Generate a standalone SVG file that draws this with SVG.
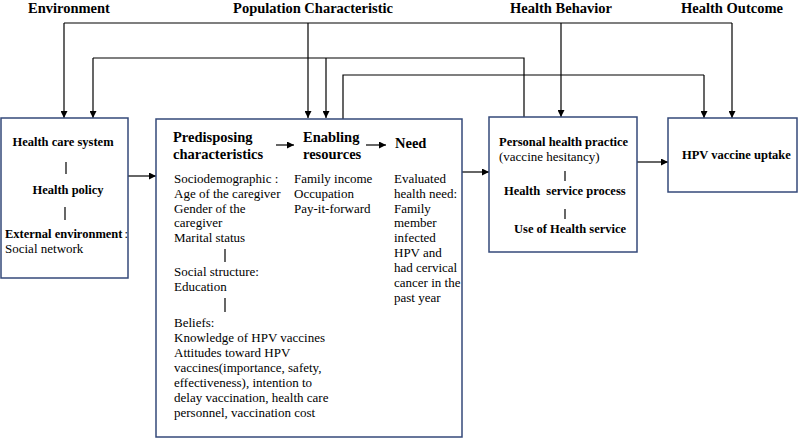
<svg xmlns="http://www.w3.org/2000/svg" width="798" height="440" viewBox="0 0 798 440">
<defs>
<marker id="ah" viewBox="0 0 10 10" refX="10" refY="5" markerWidth="7" markerHeight="7" markerUnits="userSpaceOnUse" orient="auto">
<path d="M0,0 L10,5 L0,10 z" fill="#000"/>
</marker>
<style>
.box{fill:#fff;stroke:#34497a;stroke-width:1.5}
.c{fill:none;stroke:#000;stroke-width:1.2}
.ca{fill:none;stroke:#000;stroke-width:1.2;marker-end:url(#ah)}
.bar{stroke:#000;stroke-width:1.2}
text{font-family:"Liberation Serif","Times New Roman",serif;fill:#000}
.h{font-size:14.5px;font-weight:bold}
.b{font-size:12.5px;font-weight:bold}
.hb{font-size:14.5px;font-weight:bold}
.r{font-size:13px}
</style>
</defs>
<rect width="798" height="440" fill="#fff"/>
<g id="headers">
<text class="h" x="69" y="13" text-anchor="middle">Environment</text>
<text class="h" x="313" y="13" text-anchor="middle">Population Characteristic</text>
<text class="h" x="561" y="13" text-anchor="middle">Health Behavior</text>
<text class="h" x="732" y="13" text-anchor="middle">Health Outcome</text>
</g>
<g id="connectors">
<path class="c" d="M64,23 H732"/>
<path class="ca" d="M64,23 V118"/>
<path class="ca" d="M308,23 V118"/>
<path class="ca" d="M561,23 V117"/>
<path class="ca" d="M732,23 V118"/>
<path class="c" d="M524,117 V58 H93"/>
<path class="ca" d="M93,58 V118"/>
<path class="ca" d="M326,58 V118"/>
<path class="c" d="M343,119 V75 H704"/>
<path class="ca" d="M704,75 V118"/>
<path class="ca" d="M128,176 H156"/>
<path class="ca" d="M462,172 H489"/>
<path class="ca" d="M637,162 H668"/>
</g>
<g id="environment">
<rect class="box" x="1" y="118" width="127" height="160"/>
<text class="b" x="63" y="146" text-anchor="middle">Health care system</text>
<line class="bar" x1="66" y1="162" x2="66" y2="174"/>
<text class="b" x="68" y="194" text-anchor="middle">Health policy</text>
<line class="bar" x1="65" y1="207" x2="65" y2="220"/>
<text class="b" x="5" y="238">External environment<tspan font-weight="normal" dx="2">:</tspan></text>
<text class="r" x="5" y="253">Social network</text>
</g>
<g id="population">
<rect class="box" x="156" y="119" width="306" height="318"/>
<text class="hb" x="173" y="142">Predisposing</text>
<text class="hb" x="173" y="159">characteristics</text>
<path class="ca" d="M276,145 H294"/>
<text class="hb" x="303" y="142">Enabling</text>
<text class="hb" x="303" y="159">resources</text>
<path class="ca" d="M366,145 H386"/>
<text class="hb" x="395" y="148">Need</text>
<g>
<text class="r" x="174" y="183">Sociodemographic :</text>
<text class="r" x="174" y="197.5">Age of the caregiver</text>
<text class="r" x="174" y="212.5">Gender of the</text>
<text class="r" x="174" y="227">caregiver</text>
<text class="r" x="174" y="241.5">Marital status</text>
<line class="bar" x1="225" y1="249" x2="225" y2="262"/>
<text class="r" x="174" y="276">Social structure:</text>
<text class="r" x="174" y="290.5">Education</text>
<line class="bar" x1="225" y1="298" x2="225" y2="312"/>
<text class="r" x="174" y="327">Beliefs:</text>
<text class="r" x="174" y="342">Knowledge of HPV vaccines</text>
<text class="r" x="174" y="357">Attitudes toward HPV</text>
<text class="r" x="174" y="372">vaccines(importance, safety,</text>
<text class="r" x="174" y="387">effectiveness), intention to</text>
<text class="r" x="174" y="402">delay vaccination, health care</text>
<text class="r" x="174" y="416.5">personnel, vaccination cost</text>
<text class="r" x="294" y="183">Family income</text>
<text class="r" x="294" y="197.5">Occupation</text>
<text class="r" x="294" y="212.5">Pay-it-forward</text>
<text class="r" x="394" y="183">Evaluated</text>
<text class="r" x="394" y="197.5">health need:</text>
<text class="r" x="394" y="212.5">Family</text>
<text class="r" x="394" y="227">member</text>
<text class="r" x="394" y="242">infected</text>
<text class="r" x="394" y="256.5">HPV and</text>
<text class="r" x="394" y="271.5">had cervical</text>
<text class="r" x="394" y="286.5">cancer in the</text>
<text class="r" x="394" y="301.5">past year</text>
</g>
</g>
<g id="behavior">
<rect class="box" x="489" y="117" width="148" height="135"/>
<text class="b" x="499" y="146">Personal health practice</text>
<text class="r" x="499" y="161">(vaccine hesitancy)</text>
<line class="bar" x1="565" y1="171" x2="565" y2="181"/>
<text class="b" x="504" y="195" xml:space="preserve">Health  service process</text>
<line class="bar" x1="565" y1="209" x2="565" y2="219"/>
<text class="b" x="514" y="233">Use of Health service</text>
</g>
<g id="outcome">
<rect class="box" x="668" y="118" width="129" height="74"/>
<text class="b" x="682" y="159">HPV vaccine uptake</text>
</g>
</svg>
